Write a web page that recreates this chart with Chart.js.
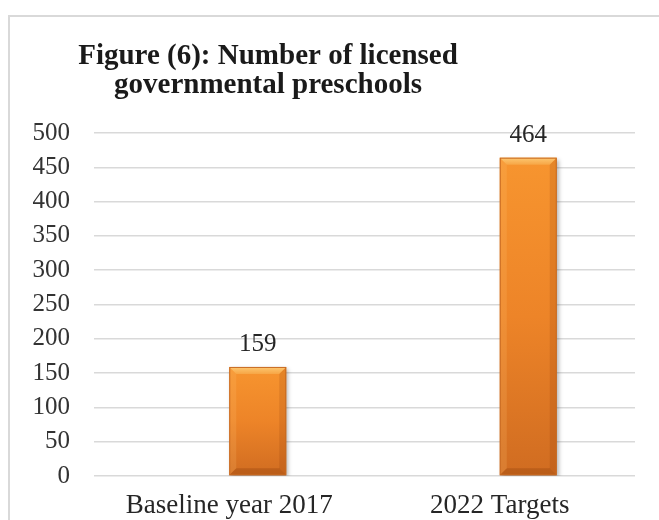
<!DOCTYPE html>
<html>
<head>
<meta charset="utf-8">
<script src="https://cdn.jsdelivr.net/npm/chart.js@4.4.1/dist/chart.umd.min.js"></script>
<style>
  html, body { margin: 0; padding: 0; background: #ffffff; }
  #wrap { width: 659px; height: 520px; position: relative; }
</style>
</head>
<body>
<div id="wrap"><canvas id="preschoolChart" width="659" height="520"></canvas></div>
<script>
// Licensed governmental preschools: baseline vs. target
const titleLines = ['Figure (6): Number of licensed', 'governmental preschools'];
const categories = ['Baseline year 2017', '2022 Targets'];
const emptySeries = [null, null];          // first (empty) series keeps the bars offset in their slot
const preschoolCounts = [159, 464];
const yTickValues = [0, 50, 100, 150, 200, 250, 300, 350, 400, 450, 500];

const SERIF = '"Liberation Serif", "Times New Roman", serif';
Chart.defaults.font.family = SERIF;

// outer frame of the chart object
const framePlugin = {
    id: 'frame',
    beforeDraw(chart) {
        const ctx = chart.ctx;
        ctx.save();
        ctx.strokeStyle = '#d9d9d9';
        ctx.lineWidth = 2;
        ctx.strokeRect(9, 16, 720, 600);
        ctx.restore();
    }
};

// two-line bold title, placed over the left part of the plot
const titlePlugin = {
    id: 'titleText',
    afterDraw(chart) {
        const ctx = chart.ctx;
        ctx.save();
        ctx.font = 'bold 29px ' + SERIF;
        ctx.fillStyle = '#1a1a1a';
        ctx.textAlign = 'center';
        ctx.textBaseline = 'alphabetic';
        titleLines.forEach((line, i) => ctx.fillText(line, 268, 64 + i * 29));
        ctx.restore();
    }
};

// soft shadow behind bars
const shadowPlugin = {
    id: 'barShadow',
    beforeDatasetDraw(chart) {
        const ctx = chart.ctx;
        ctx.save();
        ctx.shadowColor = 'rgba(0, 0, 0, 0.28)';
        ctx.shadowBlur = 4;
        ctx.shadowOffsetX = 2;
        ctx.shadowOffsetY = 2;
    },
    afterDatasetDraw(chart) {
        chart.ctx.restore();
    }
};

// bevel facets on each bar + value label above it
const bevelPlugin = {
    id: 'bevel',
    afterDatasetsDraw(chart) {
        const ctx = chart.ctx;
        const meta = chart.getDatasetMeta(1);
        meta.data.forEach((bar, i) => {
            const value = chart.data.datasets[1].data[i];
            if (value == null) return;
            const { x, y, base, width } = bar.getProps(['x', 'y', 'base', 'width'], true);
            const l = x - width / 2, r = x + width / 2, b = 7;

            ctx.save();
            // top facet
            let g = ctx.createLinearGradient(0, y, 0, y + b);
            g.addColorStop(0, '#fdc872');
            g.addColorStop(1, '#f7a645');
            ctx.fillStyle = g;
            ctx.beginPath();
            ctx.moveTo(l, y); ctx.lineTo(r, y); ctx.lineTo(r - b, y + b); ctx.lineTo(l + b, y + b);
            ctx.closePath(); ctx.fill();
            // left facet
            ctx.fillStyle = 'rgba(255, 200, 120, 0.18)';
            ctx.beginPath();
            ctx.moveTo(l, y); ctx.lineTo(l + b, y + b); ctx.lineTo(l + b, base - b); ctx.lineTo(l, base);
            ctx.closePath(); ctx.fill();
            // right facet
            ctx.fillStyle = 'rgba(120, 45, 0, 0.14)';
            ctx.beginPath();
            ctx.moveTo(r, y); ctx.lineTo(r - b, y + b); ctx.lineTo(r - b, base - b); ctx.lineTo(r, base);
            ctx.closePath(); ctx.fill();
            // bottom facet
            ctx.fillStyle = 'rgba(110, 40, 0, 0.22)';
            ctx.beginPath();
            ctx.moveTo(l, base); ctx.lineTo(l + b, base - b); ctx.lineTo(r - b, base - b); ctx.lineTo(r, base);
            ctx.closePath(); ctx.fill();
            // edge
            ctx.strokeStyle = '#c76a22';
            ctx.lineWidth = 1;
            ctx.strokeRect(l + 0.5, y + 0.5, width - 1, base - y - 1);

            // value label
            ctx.font = '25px ' + SERIF;
            ctx.fillStyle = '#262626';
            ctx.textAlign = 'center';
            ctx.textBaseline = 'alphabetic';
            ctx.fillText(String(value), x, y - 16);
            ctx.restore();
        });
    }
};

function barFill(context) {
    const chart = context.chart;
    if (!chart.chartArea || context.raw == null) return '#ef8a2c';
    const yScale = chart.scales.y;
    const top = yScale.getPixelForValue(context.raw);
    const bottom = yScale.getPixelForValue(0);
    const g = chart.ctx.createLinearGradient(0, top, 0, bottom);
    g.addColorStop(0, '#f7952f');
    g.addColorStop(0.5, '#ed8428');
    g.addColorStop(1, '#d06c21');
    return g;
}

new Chart(document.getElementById('preschoolChart'), {
    type: 'bar',
    data: {
        labels: categories,
        datasets: [
            {
                label: 'Series 1',
                data: emptySeries,
                backgroundColor: '#4472c4'
            },
            {
                label: 'Licensed governmental preschools',
                data: preschoolCounts,
                backgroundColor: barFill,
                borderWidth: 0
            }
        ]
    },
    options: {
        responsive: false,
        animation: false,
        events: [],
        categoryPercentage: 0.4214,
        barPercentage: 1.0,
        layout: { padding: { top: 133, right: 24, bottom: 0, left: 0 } },
        plugins: {
            legend: { display: false },
            title: { display: false },
            tooltip: { enabled: false }
        },
        scales: {
            x: {
                grid: { display: false },
                border: { display: false },
                ticks: {
                    color: '#262626',
                    font: { size: 27 },
                    padding: 6,
                    maxRotation: 0,
                    autoSkip: false
                },
                afterFit(scale) { scale.height = 44; }
            },
            y: {
                min: 0,
                max: 500,
                border: { display: false },
                grid: { color: '#d9d9d9', lineWidth: 1.5, drawTicks: false },
                ticks: {
                    color: '#333333',
                    font: { size: 25 },
                    padding: 24
                },
                afterBuildTicks(scale) {
                    scale.ticks = yTickValues.map(v => ({ value: v }));
                },
                afterFit(scale) { scale.width = 94; }
            }
        }
    },
    plugins: [framePlugin, shadowPlugin, bevelPlugin, titlePlugin]
});
</script>
</body>
</html>
